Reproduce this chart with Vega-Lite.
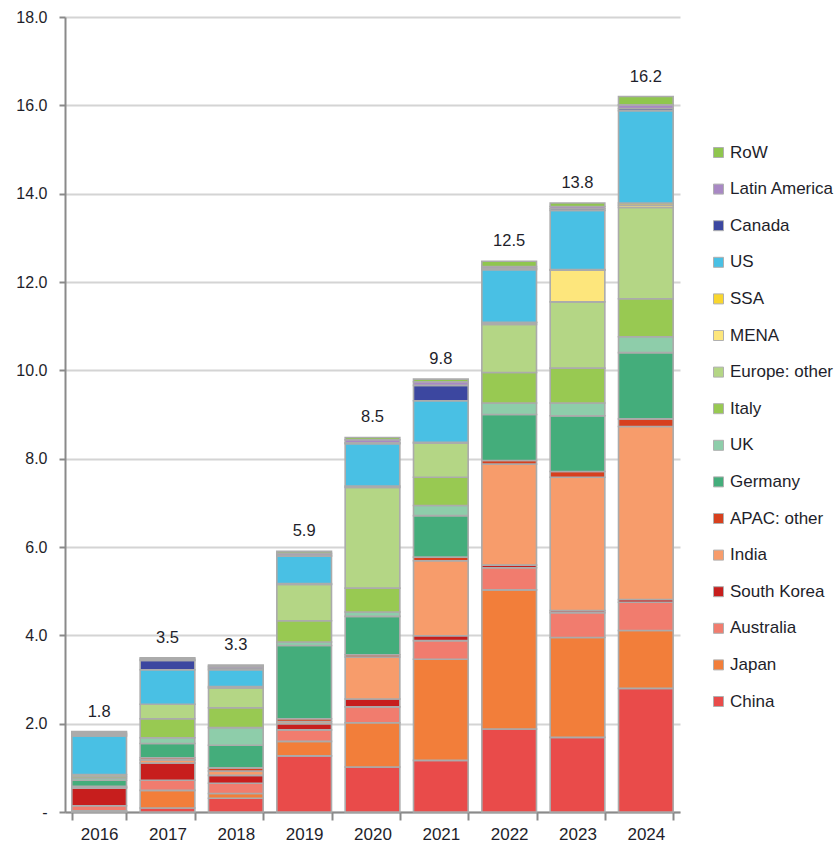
{
  "$schema": "https://vega.github.io/schema/vega-lite/v6.json",
  "width": 615,
  "height": 795,
  "autosize": {"type": "none"},
  "padding": {"left": 65, "top": 17, "right": 156, "bottom": 34},
  "background": "white",
  "config": {
    "view": {"stroke": null},
    "font": "Liberation Sans",
    "axis": {"labelFont": "Liberation Sans", "labelColor": "#1e1e2a"},
    "legend": {"labelFont": "Liberation Sans"}
  },
  "data": {
    "values": [
      {"year": "2016", "region": "China", "value": 0.01},
      {"year": "2016", "region": "Japan", "value": 0.02},
      {"year": "2016", "region": "Australia", "value": 0.11},
      {"year": "2016", "region": "South Korea", "value": 0.40},
      {"year": "2016", "region": "India", "value": 0.02},
      {"year": "2016", "region": "APAC: other", "value": 0.02},
      {"year": "2016", "region": "Germany", "value": 0.14},
      {"year": "2016", "region": "UK", "value": 0.05},
      {"year": "2016", "region": "Italy", "value": 0.04},
      {"year": "2016", "region": "Europe: other", "value": 0.04},
      {"year": "2016", "region": "US", "value": 0.87},
      {"year": "2016", "region": "Canada", "value": 0.03},
      {"year": "2016", "region": "Latin America", "value": 0.03},
      {"year": "2016", "region": "RoW", "value": 0.04},

      {"year": "2017", "region": "China", "value": 0.09},
      {"year": "2017", "region": "Japan", "value": 0.40},
      {"year": "2017", "region": "Australia", "value": 0.23},
      {"year": "2017", "region": "South Korea", "value": 0.39},
      {"year": "2017", "region": "India", "value": 0.07},
      {"year": "2017", "region": "APAC: other", "value": 0.05},
      {"year": "2017", "region": "Germany", "value": 0.32},
      {"year": "2017", "region": "UK", "value": 0.13},
      {"year": "2017", "region": "Italy", "value": 0.43},
      {"year": "2017", "region": "Europe: other", "value": 0.33},
      {"year": "2017", "region": "US", "value": 0.78},
      {"year": "2017", "region": "Canada", "value": 0.21},
      {"year": "2017", "region": "Latin America", "value": 0.03},
      {"year": "2017", "region": "RoW", "value": 0.03},

      {"year": "2018", "region": "China", "value": 0.31},
      {"year": "2018", "region": "Japan", "value": 0.11},
      {"year": "2018", "region": "Australia", "value": 0.23},
      {"year": "2018", "region": "South Korea", "value": 0.18},
      {"year": "2018", "region": "India", "value": 0.10},
      {"year": "2018", "region": "APAC: other", "value": 0.07},
      {"year": "2018", "region": "Germany", "value": 0.51},
      {"year": "2018", "region": "UK", "value": 0.40},
      {"year": "2018", "region": "Italy", "value": 0.45},
      {"year": "2018", "region": "Europe: other", "value": 0.45},
      {"year": "2018", "region": "MENA", "value": 0.03},
      {"year": "2018", "region": "US", "value": 0.38},
      {"year": "2018", "region": "Canada", "value": 0.04},
      {"year": "2018", "region": "Latin America", "value": 0.04},
      {"year": "2018", "region": "RoW", "value": 0.03},

      {"year": "2019", "region": "China", "value": 1.27},
      {"year": "2019", "region": "Japan", "value": 0.33},
      {"year": "2019", "region": "Australia", "value": 0.26},
      {"year": "2019", "region": "South Korea", "value": 0.14},
      {"year": "2019", "region": "India", "value": 0.05},
      {"year": "2019", "region": "APAC: other", "value": 0.06},
      {"year": "2019", "region": "Germany", "value": 1.66},
      {"year": "2019", "region": "UK", "value": 0.08},
      {"year": "2019", "region": "Italy", "value": 0.48},
      {"year": "2019", "region": "Europe: other", "value": 0.82},
      {"year": "2019", "region": "MENA", "value": 0.02},
      {"year": "2019", "region": "US", "value": 0.62},
      {"year": "2019", "region": "Canada", "value": 0.03},
      {"year": "2019", "region": "Latin America", "value": 0.04},
      {"year": "2019", "region": "RoW", "value": 0.04},

      {"year": "2020", "region": "China", "value": 1.02},
      {"year": "2020", "region": "Japan", "value": 1.00},
      {"year": "2020", "region": "Australia", "value": 0.36},
      {"year": "2020", "region": "South Korea", "value": 0.18},
      {"year": "2020", "region": "India", "value": 0.95},
      {"year": "2020", "region": "APAC: other", "value": 0.05},
      {"year": "2020", "region": "Germany", "value": 0.87},
      {"year": "2020", "region": "UK", "value": 0.10},
      {"year": "2020", "region": "Italy", "value": 0.54},
      {"year": "2020", "region": "Europe: other", "value": 2.28},
      {"year": "2020", "region": "MENA", "value": 0.03},
      {"year": "2020", "region": "US", "value": 0.96},
      {"year": "2020", "region": "Canada", "value": 0.02},
      {"year": "2020", "region": "Latin America", "value": 0.07},
      {"year": "2020", "region": "RoW", "value": 0.05},

      {"year": "2021", "region": "China", "value": 1.17},
      {"year": "2021", "region": "Japan", "value": 2.29},
      {"year": "2021", "region": "Australia", "value": 0.42},
      {"year": "2021", "region": "South Korea", "value": 0.11},
      {"year": "2021", "region": "India", "value": 1.70},
      {"year": "2021", "region": "APAC: other", "value": 0.08},
      {"year": "2021", "region": "Germany", "value": 0.94},
      {"year": "2021", "region": "UK", "value": 0.23},
      {"year": "2021", "region": "Italy", "value": 0.64},
      {"year": "2021", "region": "Europe: other", "value": 0.77},
      {"year": "2021", "region": "MENA", "value": 0.02},
      {"year": "2021", "region": "US", "value": 0.94},
      {"year": "2021", "region": "Canada", "value": 0.35},
      {"year": "2021", "region": "Latin America", "value": 0.08},
      {"year": "2021", "region": "RoW", "value": 0.06},

      {"year": "2022", "region": "China", "value": 1.88},
      {"year": "2022", "region": "Japan", "value": 3.15},
      {"year": "2022", "region": "Australia", "value": 0.50},
      {"year": "2022", "region": "South Korea", "value": 0.06},
      {"year": "2022", "region": "India", "value": 2.29},
      {"year": "2022", "region": "APAC: other", "value": 0.08},
      {"year": "2022", "region": "Germany", "value": 1.04},
      {"year": "2022", "region": "UK", "value": 0.26},
      {"year": "2022", "region": "Italy", "value": 0.69},
      {"year": "2022", "region": "Europe: other", "value": 1.09},
      {"year": "2022", "region": "MENA", "value": 0.04},
      {"year": "2022", "region": "SSA", "value": 0.01},
      {"year": "2022", "region": "US", "value": 1.19},
      {"year": "2022", "region": "Canada", "value": 0.03},
      {"year": "2022", "region": "Latin America", "value": 0.04},
      {"year": "2022", "region": "RoW", "value": 0.12},

      {"year": "2023", "region": "China", "value": 1.69},
      {"year": "2023", "region": "Japan", "value": 2.26},
      {"year": "2023", "region": "Australia", "value": 0.56},
      {"year": "2023", "region": "South Korea", "value": 0.05},
      {"year": "2023", "region": "India", "value": 3.02},
      {"year": "2023", "region": "APAC: other", "value": 0.13},
      {"year": "2023", "region": "Germany", "value": 1.26},
      {"year": "2023", "region": "UK", "value": 0.29},
      {"year": "2023", "region": "Italy", "value": 0.79},
      {"year": "2023", "region": "Europe: other", "value": 1.50},
      {"year": "2023", "region": "MENA", "value": 0.72},
      {"year": "2023", "region": "SSA", "value": 0.01},
      {"year": "2023", "region": "US", "value": 1.34},
      {"year": "2023", "region": "Canada", "value": 0.04},
      {"year": "2023", "region": "Latin America", "value": 0.05},
      {"year": "2023", "region": "RoW", "value": 0.08},

      {"year": "2024", "region": "China", "value": 2.80},
      {"year": "2024", "region": "Japan", "value": 1.31},
      {"year": "2024", "region": "Australia", "value": 0.64},
      {"year": "2024", "region": "South Korea", "value": 0.06},
      {"year": "2024", "region": "India", "value": 3.92},
      {"year": "2024", "region": "APAC: other", "value": 0.17},
      {"year": "2024", "region": "Germany", "value": 1.50},
      {"year": "2024", "region": "UK", "value": 0.36},
      {"year": "2024", "region": "Italy", "value": 0.86},
      {"year": "2024", "region": "Europe: other", "value": 2.07},
      {"year": "2024", "region": "MENA", "value": 0.05},
      {"year": "2024", "region": "SSA", "value": 0.05},
      {"year": "2024", "region": "US", "value": 2.09},
      {"year": "2024", "region": "Canada", "value": 0.05},
      {"year": "2024", "region": "Latin America", "value": 0.08},
      {"year": "2024", "region": "RoW", "value": 0.19}
    ]
  },
  "transform": [
    {"calculate": "indexof(['China', 'Japan', 'Australia', 'South Korea', 'India', 'APAC: other', 'Germany', 'UK', 'Italy', 'Europe: other', 'MENA', 'SSA', 'US', 'Canada', 'Latin America', 'RoW'], datum.region)", "as": "stackKey"}
  ],
  "encoding": {
    "x": {
      "field": "year",
      "type": "ordinal",
      "scale": {"paddingInner": 0.2, "paddingOuter": 0.1},
      "axis": {
        "title": null,
        "labelAngle": 0,
        "labelFontSize": 17,
        "labelPadding": 6,
        "tickBand": "extent",
        "tickSize": 8,
        "tickColor": "#8a8a8a",
        "tickWidth": 2,
        "domainColor": "#8a8a8a",
        "domainWidth": 2,
        "grid": false
      }
    }
  },
  "layer": [
    {
      "mark": {"type": "bar", "stroke": "#ababab", "strokeWidth": 1.6},
      "encoding": {
        "y": {
          "field": "value",
          "type": "quantitative",
          "stack": "zero",
          "scale": {"domain": [0, 18], "nice": false},
          "axis": {
            "title": null,
            "values": [0, 2, 4, 6, 8, 10, 12, 14, 16, 18],
            "labelExpr": "datum.value == 0 ? '-' : format(datum.value, '.1f')",
            "labelFontSize": 16,
            "labelPadding": 12,
            "tickSize": 6,
            "tickColor": "#8a8a8a",
            "tickWidth": 2,
            "domainColor": "#8a8a8a",
            "domainWidth": 2,
            "grid": true,
            "gridColor": "#d4d4d4",
            "gridWidth": 2
          }
        },
        "order": {"field": "stackKey", "type": "quantitative", "sort": "ascending"},
        "color": {
          "field": "region",
          "type": "nominal",
          "scale": {
            "domain": ["China", "Japan", "Australia", "South Korea", "India", "APAC: other", "Germany", "UK", "Italy", "Europe: other", "MENA", "SSA", "US", "Canada", "Latin America", "RoW"],
            "range": ["#E94B4A", "#F27E3A", "#F17C6E", "#C71E1D", "#F79C6B", "#D7401E", "#44AD7B", "#8ECDAA", "#98C952", "#B4D685", "#FDE67C", "#F9D62E", "#49C0E4", "#3C47A0", "#A888C4", "#8FC64E"]
          },
          "legend": {
            "title": null,
            "orient": "none",
            "legendX": 645,
            "legendY": 127,
            "values": ["RoW", "Latin America", "Canada", "US", "SSA", "MENA", "Europe: other", "Italy", "UK", "Germany", "APAC: other", "India", "South Korea", "Australia", "Japan", "China"],
            "symbolType": "square",
            "symbolSize": 100,
            "symbolStrokeColor": "#b0b0b0",
            "symbolStrokeWidth": 1,
            "labelFontSize": 17,
            "labelColor": "#1e1e2a",
            "labelOffset": 3,
            "rowPadding": 18.6
          }
        }
      }
    },
    {
      "mark": {"type": "text", "baseline": "alphabetic", "dy": -15, "fontSize": 16.5, "color": "#1e1e2a", "font": "Liberation Sans"},
      "encoding": {
        "y": {"field": "value", "type": "quantitative", "aggregate": "sum"},
        "text": {"field": "value", "type": "quantitative", "aggregate": "sum", "format": ".1f"}
      }
    }
  ]
}
